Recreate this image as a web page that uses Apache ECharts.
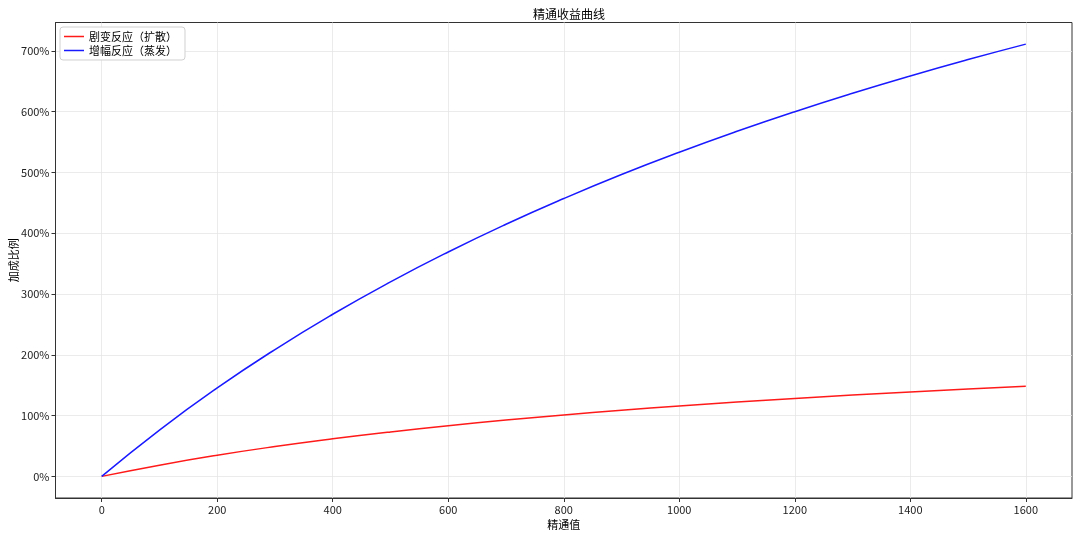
<!DOCTYPE html>
<html>
<head>
<meta charset="utf-8">
<script src="https://cdn.jsdelivr.net/npm/echarts@6/dist/echarts.min.js"></script>
<style>html,body{margin:0;padding:0;background:#fff;}#c{width:1080px;height:537px;}</style>
</head>
<body>
<div id="c"></div>
<script>
const emValues = [0,100,200,300,400,500,600,700,800,900,1000,1100,1200,1300,1400,1500,1600];
const transformative = [0,18.5,34.8,49.1,61.8,73.2,83.4,92.7,101.1,108.8,115.8,122.3,128.3,133.9,139.0,143.8,148.3];
const amplifying = [0,76.2,145.5,208.7,266.7,320.0,369.2,414.8,457.1,496.6,533.3,567.7,600.0,630.3,658.8,685.7,711.1];
const xTicks = [0,200,400,600,800,1000,1200,1400,1600];
const yTicks = [0,100,200,300,400,500,600,700];
const seriesNames = ['剧变反应（扩散）','增幅反应（蒸发）'];

const font = '"Noto Sans CJK SC", "DejaVu Sans", sans-serif';
const chart = echarts.init(document.getElementById('c'), null, {renderer:'canvas'});
const gridColor = '#e6e6e6';
chart.setOption({
  animation: false,
  textStyle: {fontFamily: font},
  title: {
    text: '精通收益曲线', left: 528, top: 3,
    textStyle: {fontSize: 12, fontWeight: 'normal', color: '#000', fontFamily: font}
  },
  legend: {
    orient: 'vertical', left: 60, top: 27,
    data: seriesNames,
    icon: 'rect', itemWidth: 20, itemHeight: 1.5, itemGap: 3,
    padding: [4, 8, 4, 4],
    backgroundColor: '#fff', borderColor: '#d0d0d0', borderWidth: 1, borderRadius: 3,
    textStyle: {fontSize: 11, color: '#000', fontFamily: font}
  },
  grid: {left: 55.5, right: 8, top: 22.5, bottom: 39, containLabel: false, outerBoundsMode: 'none', show: true, borderColor: '#333', borderWidth: 1},
  xAxis: {
    type: 'value', min: -80, max: 1680,
    name: '精通值', nameLocation: 'middle', nameGap: 21, nameMoveOverlap: false,
    nameTextStyle: {fontSize: 11, color: '#000', fontFamily: font},
    axisLine: {show: true, onZero: false, lineStyle: {color: '#333'}},
    axisTick: {show: true, length: 4, lineStyle: {color: '#333'}, customValues: xTicks},
    axisLabel: {fontSize: 11, color: '#222', margin: 6, customValues: xTicks, formatter: v => String(v), fontFamily: font},
    splitLine: {show: true, lineStyle: {color: gridColor, width: 0.8}}
  },
  yAxis: {
    type: 'value', min: -35.56, max: 746.7,
    name: '加成比例', nameLocation: 'middle', nameGap: 36, nameMoveOverlap: false,
    nameTextStyle: {fontSize: 11, color: '#000', fontFamily: font},
    axisLine: {show: true, onZero: false, lineStyle: {color: '#333'}},
    axisTick: {show: true, length: 4, lineStyle: {color: '#333'}, customValues: yTicks},
    axisLabel: {fontSize: 11, color: '#222', margin: 6, customValues: yTicks, formatter: v => v + '%', fontFamily: font},
    splitLine: {show: true, lineStyle: {color: gridColor, width: 0.8}}
  },
  series: [
    {
      name: seriesNames[0], type: 'line', smooth: true, showSymbol: false, symbol: 'none',
      data: emValues.map((x, i) => [x, transformative[i]]),
      itemStyle: {color: '#ff1a1a'},
      lineStyle: {color: '#ff1a1a', width: 1.5},
      z: 3
    },
    {
      name: seriesNames[1], type: 'line', smooth: true, showSymbol: false, symbol: 'none',
      data: emValues.map((x, i) => [x, amplifying[i]]),
      itemStyle: {color: '#1a1aff'},
      lineStyle: {color: '#1a1aff', width: 1.5},
      z: 3
    }
  ]
});
</script>
</body>
</html>
